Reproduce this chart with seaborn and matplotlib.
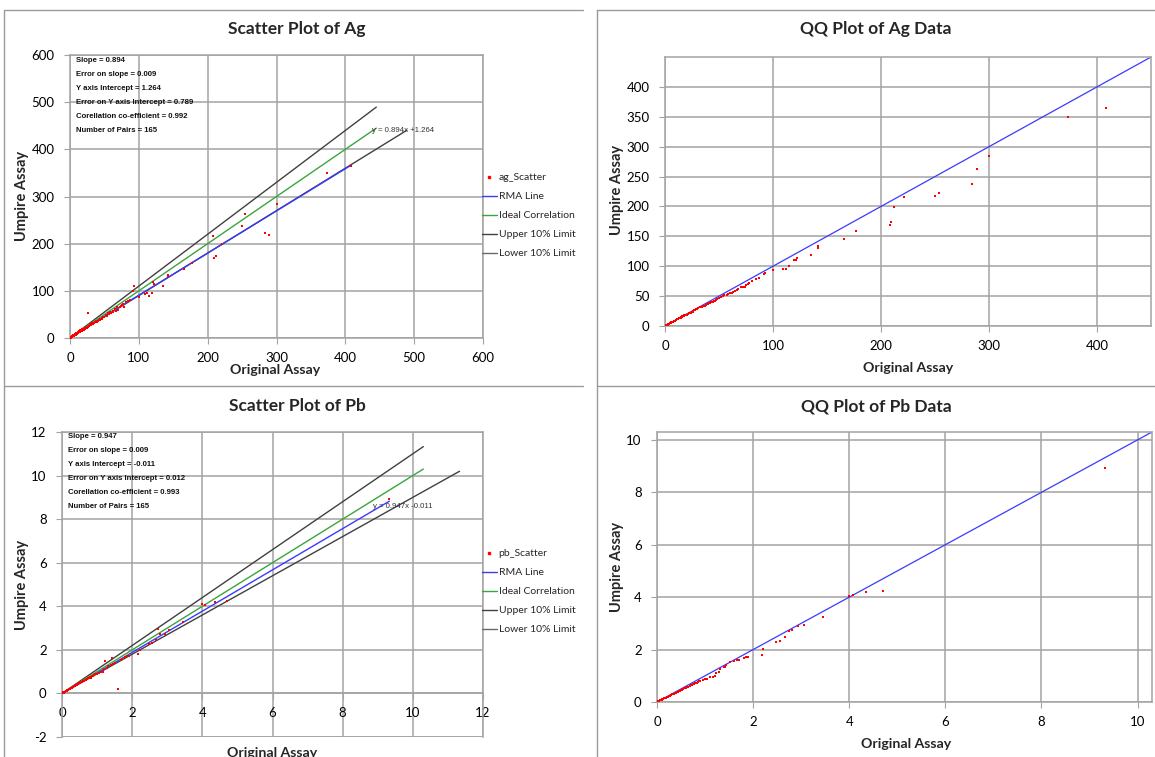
import numpy as np
import pandas as pd
import matplotlib
matplotlib.use("Agg")
import matplotlib.pyplot as plt
from matplotlib.lines import Line2D
import seaborn as sns

# ---------------- data ----------------
ag_original = [1, 1.5, 2, 2, 2.5, 3, 3, 3.5, 4, 4, 4.5, 5, 5, 5.5, 6, 6, 6.5, 7, 7, 7.5,
               8, 8, 8.5, 9, 9, 9.5, 10, 10, 10.5, 11, 11, 12, 12, 13, 13, 14, 14, 15, 15, 16,
               16, 17, 17, 18, 18, 19, 20, 20, 21, 22, 23, 24, 25, 26, 26, 27, 28, 29, 30, 30,
               31, 32, 33, 34, 35, 36, 37, 38, 39, 40, 41, 42, 43, 44, 45, 46, 47, 48, 50, 52,
               54, 55, 57, 58, 60, 62, 63, 65, 67, 68, 70, 72, 74, 75, 77, 78, 81, 84, 87,
               92, 93, 100, 109, 112, 115, 119, 121, 122, 135, 142, 142, 166, 177, 208, 209,
               212, 221, 250, 254, 284, 289, 300, 373, 408]
ag_umpire = [1, 2, 1.5, 3, 2, 2.5, 4, 3, 3.5, 5, 4, 4.5, 6, 5, 5, 7, 6, 6.5, 8, 7,
             7, 9, 8, 8, 10, 9, 9, 11, 10, 10, 12, 11, 13, 12, 14, 13, 15, 14, 16, 14,
             17, 15, 18, 16, 19, 17, 18, 21, 19, 20, 21, 22, 23, 53, 24, 25, 26, 27, 28, 31,
             28, 30, 29, 32, 31, 34, 33, 35, 34, 37, 36, 38, 39, 40, 41, 42, 40, 45, 44, 48,
             47, 52, 50, 56, 52, 58, 55, 62, 57, 65, 60, 66, 68, 70, 72, 65, 76, 78, 80,
             100, 110, 87, 93, 95, 89, 95, 119, 114, 110, 131, 134, 146, 159, 216, 169,
             174, 199, 237, 263, 222, 218, 285, 350, 364]

pb_original = [0.02, 0.03, 0.05, 0.06, 0.08, 0.1, 0.11, 0.13, 0.15, 0.16, 0.18, 0.2, 0.21,
               0.23, 0.25, 0.27, 0.29, 0.3, 0.32, 0.34, 0.36, 0.38, 0.4, 0.42, 0.44, 0.46,
               0.48, 0.5, 0.52, 0.55, 0.57, 0.6, 0.62, 0.65, 0.68, 0.7, 0.72, 0.75, 0.78,
               0.8, 0.83, 0.85, 0.88, 0.9, 0.95, 1.0, 1.05, 1.1, 1.17, 1.21, 1.23, 1.28,
               1.31, 1.4, 1.42, 1.44, 1.52, 1.6, 1.67, 1.7, 1.8, 1.85, 1.9, 2.18, 2.21,
               2.48, 2.56, 2.67, 2.75, 2.8, 2.94, 3.05, 3.46, 4.0, 4.08, 4.35, 4.7, 9.33]
pb_umpire = [0.02, 0.05, 0.04, 0.07, 0.06, 0.1, 0.09, 0.12, 0.14, 0.15, 0.17, 0.2, 0.19,
             0.21, 0.24, 0.25, 0.27, 0.3, 0.29, 0.32, 0.33, 0.36, 0.37, 0.4, 0.41, 0.43,
             0.46, 0.47, 0.48, 0.52, 0.53, 0.56, 0.58, 0.62, 0.63, 0.66, 0.67, 0.7, 0.72,
             0.76, 0.71, 0.8, 0.82, 0.84, 0.88, 0.87, 0.94, 0.97, 1.0, 1.1, 1.51, 1.16,
             1.25, 1.32, 1.62, 1.35, 1.41, 0.2, 1.55, 1.6, 1.68, 1.7, 1.73, 1.8, 2.01,
             2.28, 2.33, 2.47, 2.95, 2.72, 2.75, 2.9, 3.26, 4.1, 4.05, 4.18, 4.22, 8.92]

ag_stats = {"slope": 0.894, "err_slope": 0.009, "intercept": 1.264,
            "err_intercept": 0.789, "corr": 0.992, "pairs": 165}
pb_stats = {"slope": 0.947, "err_slope": 0.009, "intercept": -0.011,
            "err_intercept": 0.012, "corr": 0.993, "pairs": 165}

ag_line_end = 445      # reach of ideal / upper limit lines
pb_line_end = 10.3

legend_labels_ag = ["ag_Scatter", "RMA Line", "Ideal Correlation",
                    "Upper 10% Limit", "Lower 10% Limit"]
legend_labels_pb = ["pb_Scatter", "RMA Line", "Ideal Correlation",
                    "Upper 10% Limit", "Lower 10% Limit"]

# ---------------- styling ----------------
sns.set_theme(style="white")
plt.rcParams["font.family"] = ["Lato", "DejaVu Sans"]

W, H = 1155, 757
fig = plt.figure(figsize=(W / 100, H / 100), dpi=100)

GRID = "#a3a3a3"
RED = "#ff0000"
BLUE = "#3a3aff"
GREEN = "#3aa53a"
UPPER = "#404040"
LOWER = "#6a6a6a"
SMALL_FONT = ["Liberation Sans", "DejaVu Sans"]


def px_rect(x0, y0, x1, y1):
    return [x0 / W, 1 - y1 / H, (x1 - x0) / W, (y1 - y0) / H]


def fx(x):
    return x / W


def fy(y):
    return 1 - y / H


def style_axes(ax):
    ax.grid(True, color=GRID, linewidth=1.1)
    ax.set_axisbelow(True)
    for s in ax.spines.values():
        s.set_color(GRID)
        s.set_linewidth(1.1)
        s.set_visible(True)
    ax.tick_params(axis="both", which="both", length=4, width=0.8, color=GRID,
                   labelsize=9.5, labelcolor="#000000", direction="out",
                   bottom=True, left=True)
    ax.tick_params(axis="x", pad=6)
    ax.tick_params(axis="y", pad=7)


def stats_lines(st):
    return [f"Slope = {st['slope']:.3f}",
            f"Error on slope = {st['err_slope']:.3f}",
            f"Y axis Intercept = {st['intercept']:.3f}",
            f"Error on Y axis Intercept = {st['err_intercept']:.3f}",
            f"Corellation co-efficient = {st['corr']:.3f}",
            f"Number of Pairs = {st['pairs']}"]


def border(x0, y0, x1, y1):
    fig.add_artist(Line2D([fx(x0), fx(x1)], [fy(y0), fy(y1)], color="#9a9a9a",
                          linewidth=1.0, transform=fig.transFigure))


def scatter_panel(box, orig, ump, st, line_end, xlim, ylim, ticks_x, ticks_y,
                  labels, stats_top, eq_pos, legend_top, zero_axis=False):
    ax = fig.add_axes(px_rect(*box))
    style_axes(ax)
    orig = np.asarray(orig, float)
    ump = np.asarray(ump, float)

    x_ideal = np.array([0, line_end])
    x_lower = np.array([0, line_end * 1.1])
    x_rma = np.array([0, orig.max()])

    sns.lineplot(x=x_ideal, y=x_ideal * 1.1, ax=ax, color=UPPER, linewidth=1.0,
                 estimator=None, sort=False, legend=False)
    sns.lineplot(x=x_ideal, y=x_ideal, ax=ax, color=GREEN, linewidth=1.0,
                 estimator=None, sort=False, legend=False)
    sns.lineplot(x=x_lower, y=x_lower * 0.9, ax=ax, color=UPPER, linewidth=1.0,
                 estimator=None, sort=False, legend=False)
    sns.lineplot(x=x_rma, y=st["slope"] * x_rma + st["intercept"], ax=ax, color=BLUE,
                 linewidth=1.0, estimator=None, sort=False, legend=False)
    sns.scatterplot(x=orig, y=ump, ax=ax, color=RED, marker="s", s=3.5,
                    linewidth=0, legend=False, zorder=5)

    ax.set_xlim(*xlim)
    ax.set_ylim(*ylim)
    ax.set_xticks(ticks_x)
    ax.set_yticks(ticks_y)
    ax.set_xticklabels([f"{t:g}" for t in ticks_x])
    ax.set_yticklabels([f"{t:g}" for t in ticks_y])
    ax.set_xlabel("")
    ax.set_ylabel("")
    if zero_axis:
        ax.spines["bottom"].set_position(("data", 0))
        ax.axhline(ylim[0], color=GRID, linewidth=1.1, zorder=0)

    # statistics box
    for i, line in enumerate(stats_lines(st)):
        fig.text(fx(box[0] + 6), fy(stats_top + i * 13.8), line,
                 fontsize=5.6, fontweight="bold", family=SMALL_FONT,
                 va="center", ha="left", color="#111111")

    # fitted equation label
    sign = "+" if st["intercept"] >= 0 else "-"
    eq = f"y = {st['slope']:.3f}x {sign}{abs(st['intercept']):.3f}"
    fig.text(fx(eq_pos[0]), fy(eq_pos[1]), eq, fontsize=5.6,
             family=SMALL_FONT, color="#333333", va="center", ha="left")

    handles = [Line2D([], [], marker="s", color=RED, linestyle="", markersize=1.6),
               Line2D([], [], color=BLUE, linewidth=1.0),
               Line2D([], [], color=GREEN, linewidth=1.0),
               Line2D([], [], color=UPPER, linewidth=1.0),
               Line2D([], [], color=LOWER, linewidth=1.0)]
    fig.legend(handles, labels, loc="upper left",
               bbox_to_anchor=(fx(legend_top[0]), fy(legend_top[1])),
               bbox_transform=fig.transFigure, frameon=False, fontsize=7.5,
               handlelength=1.4, handletextpad=0.2, labelspacing=0.93,
               borderpad=0, borderaxespad=0)
    return ax


def qq_panel(box, orig, ump, lim, ticks_x, ticks_y):
    ax = fig.add_axes(px_rect(*box))
    style_axes(ax)
    qx = np.sort(np.asarray(orig, float))
    qy = np.sort(np.asarray(ump, float))
    ref = np.array([0, lim[1]])
    sns.lineplot(x=ref, y=ref, ax=ax, color=BLUE, linewidth=0.9,
                 estimator=None, sort=False, legend=False)
    sns.scatterplot(x=qx, y=qy, ax=ax, color=RED, marker="s", s=3.5,
                    linewidth=0, legend=False, zorder=5)
    ax.set_xlim(*lim)
    ax.set_ylim(*lim)
    ax.set_xticks(ticks_x)
    ax.set_yticks(ticks_y)
    ax.set_xticklabels([f"{t:g}" for t in ticks_x])
    ax.set_yticklabels([f"{t:g}" for t in ticks_y])
    ax.set_xlabel("")
    ax.set_ylabel("")
    return ax


# ---------------- panels ----------------
scatter_panel((70, 55, 483, 338), ag_original, ag_umpire, ag_stats, ag_line_end,
              (0, 600), (0, 600), list(range(0, 601, 100)), list(range(0, 601, 100)),
              legend_labels_ag, stats_top=61, eq_pos=(372, 130), legend_top=(482, 173))

qq_panel((665, 57, 1151, 326), ag_original, ag_umpire, (0, 450),
         list(range(0, 401, 100)), list(range(0, 401, 50)))

scatter_panel((62, 432, 483, 737), pb_original, pb_umpire, pb_stats, pb_line_end,
              (0, 12), (-2, 12), list(range(0, 13, 2)), list(range(-2, 13, 2)),
              legend_labels_pb, stats_top=437, eq_pos=(373, 507), legend_top=(482, 549),
              zero_axis=True)

qq_panel((657, 432, 1152, 702), pb_original, pb_umpire, (0, 10.3),
         list(range(0, 11, 2)), list(range(0, 11, 2)))

# ---------------- titles and axis names ----------------
titles = [("Scatter Plot of Ag", 297, 29), ("QQ Plot of Ag Data", 876, 29),
          ("Scatter Plot of Pb", 297, 406), ("QQ Plot of Pb Data", 876, 406)]
for t, x, y in titles:
    fig.text(fx(x), fy(y), t, fontsize=12.5, fontweight="bold", ha="center", va="center")

xlabels = [(275, 370), (908, 368), (272, 753), (906, 744)]
for x, y in xlabels:
    fig.text(fx(x), fy(y), "Original Assay", fontsize=10.2, fontweight="bold",
             ha="center", va="center")
ylabels = [(22, 196), (617, 190), (22, 585), (617, 567)]
for x, y in ylabels:
    fig.text(fx(x), fy(y), "Umpire Assay", fontsize=10.5, fontweight="bold",
             ha="center", va="center", rotation=90)

# chart frames
border(4, 10, 583, 10)
border(4, 10, 4, 757)
border(4, 386, 583, 386)
border(597, 10, 1155, 10)
border(597, 10, 597, 757)
border(597, 386, 1155, 386)

fig.savefig("out.png", dpi=100)
